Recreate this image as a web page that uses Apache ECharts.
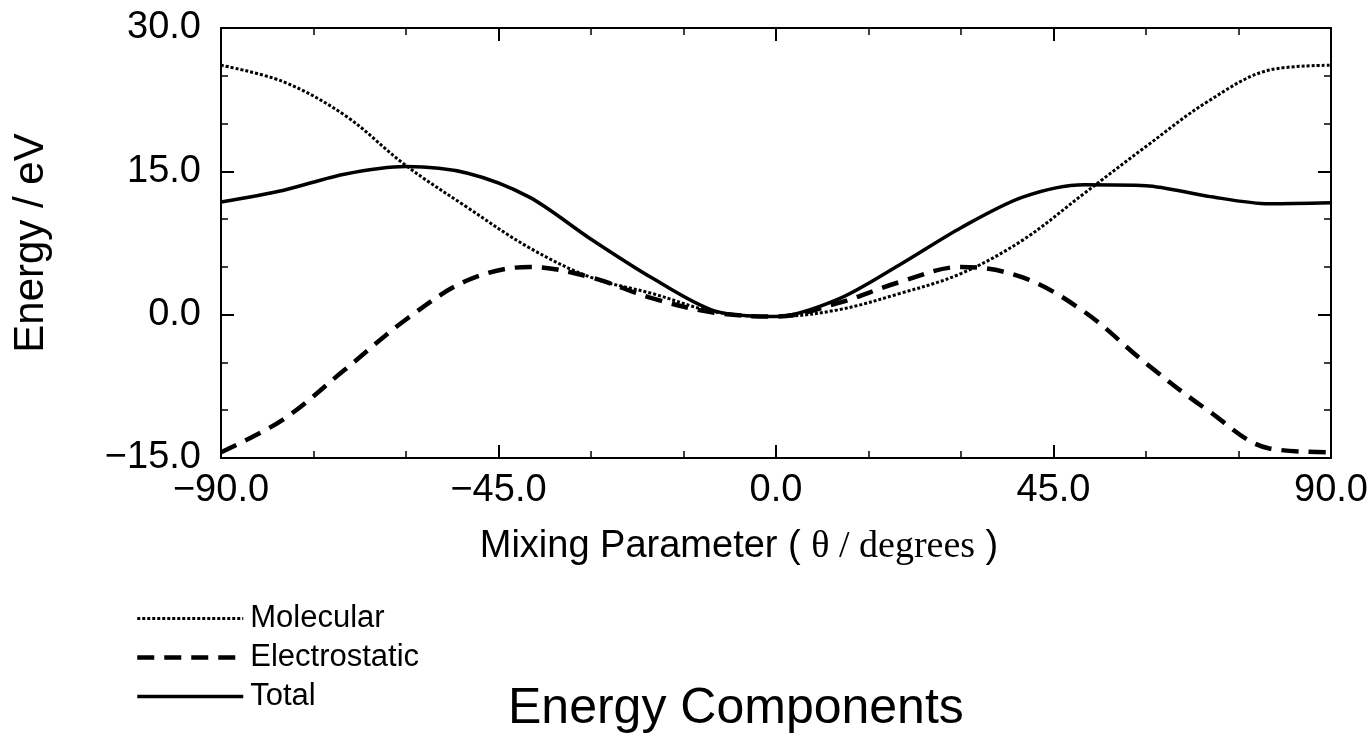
<!DOCTYPE html>
<html>
<head>
<meta charset="utf-8">
<script src="https://cdn.jsdelivr.net/npm/echarts@6/dist/echarts.min.js"></script>
<style>
  html, body { margin: 0; padding: 0; background: #fff; }
  #chart { width: 1370px; height: 744px; }
</style>
</head>
<body>
<div id="chart"></div>
<script>
// mixing angle (degrees)
const theta = [-90, -80, -70, -60, -50, -40, -30, -20, -10, 0, 10, 20, 30, 40, 50, 60, 70, 80, 90];
// energies in eV
const molecular = [26.1, 24.4, 20.9, 15.6, 11.2, 7.0, 3.9, 2.2, 0.3, -0.2, 0.5, 2.2, 4.3, 7.8, 12.7, 17.6, 22.3, 25.6, 26.1];
const electrostatic = [-14.4, -11.0, -5.8, -0.5, 3.6, 5.0, 3.9, 1.7, 0.2, -0.2, 1.2, 3.4, 5.0, 3.9, 0.3, -5.1, -10.0, -14.0, -14.4];
const total = [11.8, 13.0, 14.7, 15.5, 14.8, 12.3, 7.9, 3.8, 0.4, -0.2, 1.6, 5.2, 9.1, 12.3, 13.6, 13.5, 12.4, 11.6, 11.7];
const seriesNames = ["Molecular", "Electrostatic", "Total"];

const SANS = "Liberation Sans, Arial, sans-serif";
const SERIF = "Liberation Serif, Times New Roman, serif";
const fmt = (v) => (v < 0 ? "\u2212" : "") + Math.abs(v).toFixed(1);
const pairs = (ys) => theta.map((t, i) => [t, ys[i]]);

// line looks, shared by the curves and the legend keys
const styles = {
  Molecular: { color: "#000", width: 3, type: [3, 2] },
  Electrostatic: { color: "#000", width: 4.5, type: [17, 10] },
  Total: { color: "#000", width: 3.5, type: "solid" },
};

const chart = echarts.init(document.getElementById("chart"));

const frameAxis = {
  axisLine: { show: true, onZero: false, lineStyle: { color: "#000", width: 2 } },
  axisTick: { show: true, inside: true, length: 13, lineStyle: { color: "#000", width: 2 } },
  minorTick: { show: true, splitNumber: 3, length: 7, lineStyle: { color: "#000", width: 1.5 } },
  splitLine: { show: false },
};

chart.setOption({
  backgroundColor: "#fff",
  animation: false,
  color: ["#000", "#000", "#000"],
  textStyle: { fontFamily: SANS, color: "#000" },
  title: {
    text: "Energy Components",
    left: 508,
    top: 684,
    padding: 0,
    textStyle: { fontSize: 50, fontWeight: "normal", color: "#000", fontFamily: SANS },
  },
  legend: {
    orient: "vertical",
    left: 135,
    top: 603,
    padding: 0,
    itemWidth: 106,
    itemHeight: 20,
    itemGap: 8,
    itemStyle: { opacity: 0 },
    data: seriesNames.map((n) => ({ name: n, lineStyle: styles[n] })),
    textStyle: { fontSize: 31, color: "#000", fontFamily: SANS, padding: [0, 0, 0, 2] },
  },
  grid: { left: 221, right: 39, top: 28, bottom: 286, outerBoundsMode: "none" },
  xAxis: [
    Object.assign({}, frameAxis, {
      type: "value",
      min: -90,
      max: 90,
      interval: 45,
      position: "bottom",
      name: "{a|Mixing Parameter ( }{b|\u03b8 / degrees}{a| )}",
      nameLocation: "middle",
      nameGap: 70,
      nameTextStyle: {
        padding: [0, 74, 0, 0],
        rich: {
          a: { fontSize: 38, color: "#000", fontFamily: SANS },
          b: { fontSize: 38, color: "#000", fontFamily: SERIF },
        },
      },
      axisLabel: { fontSize: 38, color: "#000", margin: 14, formatter: fmt },
    }),
    Object.assign({}, frameAxis, {
      type: "value",
      min: -90,
      max: 90,
      interval: 45,
      position: "top",
      axisLabel: { show: false },
    }),
  ],
  yAxis: [
    Object.assign({}, frameAxis, {
      type: "value",
      min: -15,
      max: 30,
      interval: 15,
      position: "left",
      name: "Energy / eV",
      nameLocation: "middle",
      nameGap: 169,
      nameTextStyle: { fontSize: 42, color: "#000", fontFamily: SANS },
      axisLabel: { fontSize: 38, color: "#000", margin: 20, formatter: fmt },
    }),
    Object.assign({}, frameAxis, {
      type: "value",
      min: -15,
      max: 30,
      interval: 15,
      position: "right",
      axisLabel: { show: false },
    }),
  ],
  series: [
    {
      name: seriesNames[0],
      type: "line",
      data: pairs(molecular),
      smooth: 0.35,
      symbol: "none",
      lineStyle: styles.Molecular,
      z: 3,
    },
    {
      name: seriesNames[1],
      type: "line",
      data: pairs(electrostatic),
      smooth: 0.35,
      symbol: "none",
      lineStyle: styles.Electrostatic,
      z: 2,
    },
    {
      name: seriesNames[2],
      type: "line",
      data: pairs(total),
      smooth: 0.3,
      symbol: "none",
      lineStyle: styles.Total,
      z: 4,
    },
  ],
});
</script>
</body>
</html>
